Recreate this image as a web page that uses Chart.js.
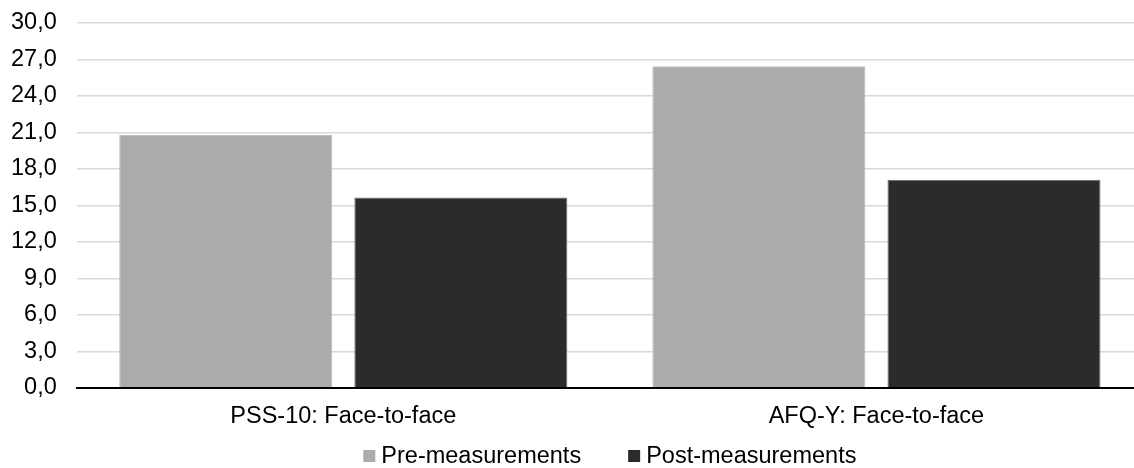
<!DOCTYPE html>
<html>
<head>
<meta charset="utf-8">
<title>PSS-10 and AFQ-Y: pre vs post</title>
<script src="https://cdn.jsdelivr.net/npm/chart.js@4/dist/chart.umd.min.js"></script>
<style>
  html, body { margin: 0; padding: 0; background: #ffffff; overflow: hidden; }
  #wrap { position: relative; width: 1143px; height: 468px; }
</style>
</head>
<body>
<div id="wrap"><canvas id="chart"></canvas></div>
<script>
// Mean scores per measure, before and after the face-to-face sessions
const categories = ['PSS-10: Face-to-face', 'AFQ-Y: Face-to-face'];
const preMeasurements = [20.8, 26.45];
const postMeasurements = [15.65, 17.1];
const seriesNames = ['Pre-measurements', 'Post-measurements'];
const yTicks = [0, 3, 6, 9, 12, 15, 18, 21, 24, 27, 30];

const FONT = 'Liberation Sans, Arial, sans-serif';
const FONT_SIZE = 23.5;

// Legend drawn centred under the plot area, with a tight box-to-text gap
const centredLegend = {
  id: 'centredLegend',
  afterDraw(chart, args, opts) {
    const ctx = chart.ctx;
    const area = chart.chartArea;
    const box = opts.boxSize, gapText = opts.textGap, gapItem = opts.itemGap;
    ctx.save();
    ctx.font = FONT_SIZE + 'px ' + FONT;
    ctx.textBaseline = 'middle';
    const items = chart.data.datasets.map(ds => ({
      label: ds.label, color: ds.backgroundColor, w: ctx.measureText(ds.label).width
    }));
    let total = 0;
    items.forEach((it, i) => { total += box + gapText + it.w + (i ? gapItem : 0); });
    let x = (area.left + area.right) / 2 - total / 2;
    const y = chart.height - opts.bottomOffset;
    items.forEach(it => {
      ctx.fillStyle = it.color;
      ctx.fillRect(x, y - box / 2, box, box);
      x += box + gapText;
      ctx.fillStyle = '#000000';
      ctx.textAlign = 'left';
      ctx.fillText(it.label, x, y + 1);
      x += it.w + gapItem;
    });
    ctx.restore();
  }
};

new Chart(document.getElementById('chart'), {
  type: 'bar',
  data: {
    labels: categories,
    datasets: [
      {
        label: seriesNames[0],
        data: preMeasurements,
        backgroundColor: '#ababab',
        borderColor: '#b8b8b8',
        borderWidth: 1
      },
      {
        label: seriesNames[1],
        data: postMeasurements,
        backgroundColor: '#2b2b2b',
        borderColor: '#6a6a6a',
        borderWidth: 1
      }
    ]
  },
  options: {
    responsive: true,
    maintainAspectRatio: false,
    animation: false,
    devicePixelRatio: 1,
    layout: { padding: { left: 11, right: 0, top: 23, bottom: 38 } },
    datasets: {
      bar: { categoryPercentage: 0.882, barPercentage: 0.906 }
    },
    plugins: {
      legend: { display: false },
      tooltip: { enabled: false },
      centredLegend: { boxSize: 12, textGap: 6, itemGap: 47, bottomOffset: 12 }
    },
    scales: {
      x: {
        grid: { display: false, drawTicks: false },
        border: { display: true, color: '#000000', width: 2 },
        ticks: {
          color: '#000000',
          font: { family: FONT, size: FONT_SIZE },
          padding: 15,
          maxRotation: 0
        },
        // padding is only wanted above the labels
        afterFit(scale) { scale.height -= 16; }
      },
      y: {
        min: 0,
        max: 30,
        afterBuildTicks(scale) { scale.ticks = yTicks.map(v => ({ value: v })); },
        grid: { color: '#d9d9d9', lineWidth: 1.5, drawTicks: false },
        border: { display: false },
        ticks: {
          color: '#000000',
          font: { family: FONT, size: FONT_SIZE },
          padding: 20,
          callback: v => v.toFixed(1).replace('.', ',')
        },
        // padding is only wanted between the labels and the plot
        afterFit(scale) {
          scale.width -= 20;
          scale.paddingTop = 0;
          scale.paddingBottom = 0;
        }
      }
    }
  },
  plugins: [centredLegend]
});
</script>
</body>
</html>
